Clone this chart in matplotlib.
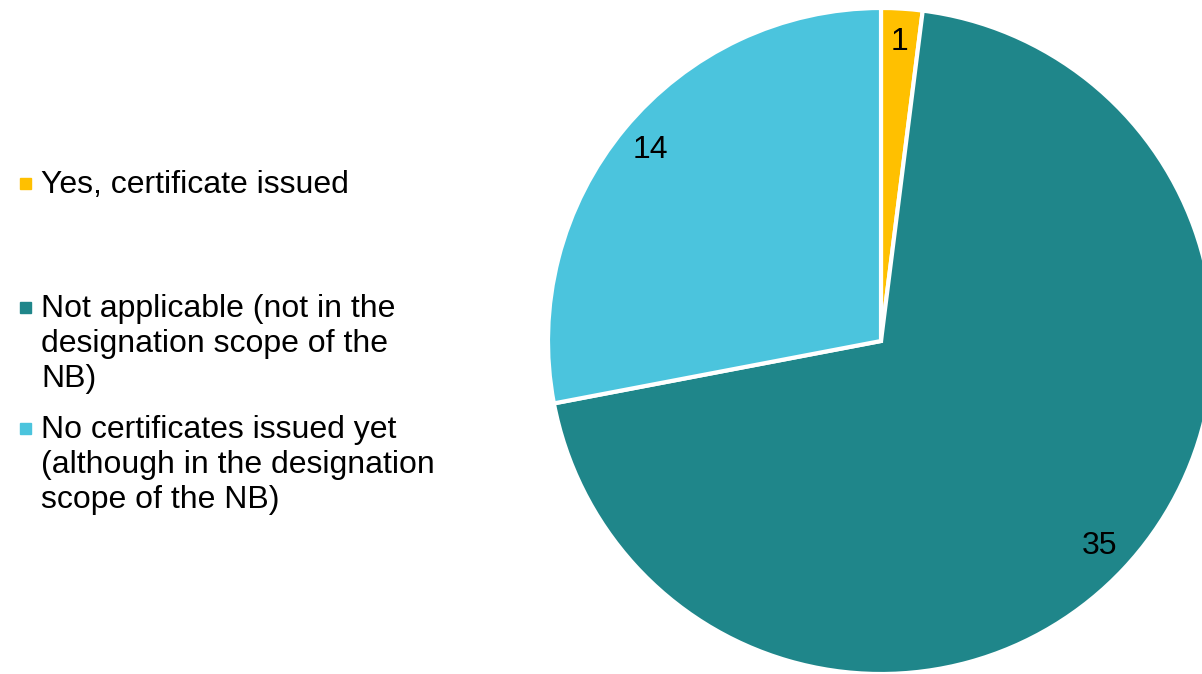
import matplotlib.pyplot as plt
from matplotlib.patches import Rectangle

plt.rcParams['font.family'] = ['Liberation Sans', 'DejaVu Sans']

# Data
categories = ['Yes, certificate issued',
              'Not applicable (not in the\ndesignation scope of the\nNB)',
              'No certificates issued yet\n(although in the designation\nscope of the NB)']
counts = [1, 35, 14]
colors = ['#FFC000', '#1F868A', '#4BC4DD']

W, H = 1202, 674
fig = plt.figure(figsize=(W / 100, H / 100), dpi=100)
ax = fig.add_axes([0, 0, 1, 1])

total = sum(counts)
ax.pie(counts, colors=colors, startangle=90, counterclock=False,
       center=(881, H - 341), radius=333, frame=True,
       wedgeprops=dict(edgecolor='white', linewidth=3),
       autopct=lambda p: f'{round(p * total / 100)}', pctdistance=0.9,
       textprops=dict(fontsize=23, color='black'))
ax.set_xlim(0, W)
ax.set_ylim(0, H)
ax.set_aspect('equal')
ax.axis('off')

# legend drawn by hand to follow the original spacing
legend_y = [183, 307, 428]
line_gap = 35
for cat, col, y in zip(categories, colors, legend_y):
    ax.add_patch(Rectangle((20, H - y - 6), 11, 11, color=col))
    for i, line in enumerate(cat.split('\n')):
        ax.text(41, H - (y + 10 + i * line_gap), line, fontsize=23,
                ha='left', va='baseline')

fig.savefig('out.png', dpi=100)
